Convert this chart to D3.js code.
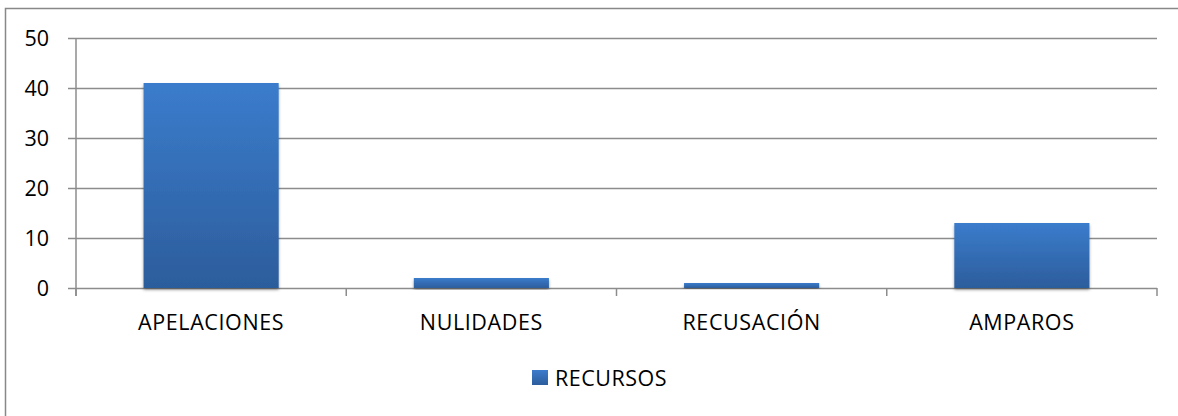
<!DOCTYPE html>
<html>
<head>
<meta charset="utf-8">
<script src="https://cdn.jsdelivr.net/npm/d3@7"></script>
<style>
  body { margin: 0; background: #fff; }
  text { font-family: "Open Sans", "Noto Sans", sans-serif; fill: #000; }
</style>
</head>
<body>
<div class="chart"></div>
<script>
// chart data
var categories = ["APELACIONES", "NULIDADES", "RECUSACIÓN", "AMPAROS"];
var recursos = [41, 2, 1, 13];
var yTicks = [0, 10, 20, 30, 40, 50];
var seriesName = "RECURSOS";

var W = 1178, H = 416;
var margin = {top: 38, right: 21, bottom: 128, left: 76},
    width = W - margin.left - margin.right,
    height = H - margin.top - margin.bottom;
var fontSize = "21.5px";

var svg = d3.select(".chart")
  .append("svg")
    .attr("width", W)
    .attr("height", H);

// gradient for bars
var defs = svg.append("defs");
var grad = defs.append("linearGradient")
    .attr("id", "barGrad")
    .attr("x1", 0).attr("y1", 0).attr("x2", 0).attr("y2", 1);
grad.append("stop").attr("offset", "0%").attr("stop-color", "#3b7ccc");
grad.append("stop").attr("offset", "100%").attr("stop-color", "#2c5d9c");

var shadow = defs.append("filter").attr("id", "shadow")
    .attr("x", "-10%").attr("y", "-10%").attr("width", "120%").attr("height", "130%");
shadow.append("feDropShadow")
    .attr("dx", 0).attr("dy", 2).attr("stdDeviation", 1.5)
    .attr("flood-color", "#000").attr("flood-opacity", 0.35);

// outer border (runs off the right and bottom)
svg.append("rect")
  .attr("x", 5.5).attr("y", 8.5)
  .attr("width", W + 20).attr("height", H + 20)
  .attr("fill", "none")
  .attr("stroke", "#888")
  .attr("stroke-width", 1.5);

var g = svg.append("g")
  .attr("transform", "translate(" + margin.left + "," + margin.top + ")");

var x = d3.scaleBand()
  .domain(categories)
  .range([0, width])
  .paddingInner(0.5)
  .paddingOuter(0.25);

var y = d3.scaleLinear()
  .domain([0, 50])
  .range([height, 0]);

// gridlines
g.append("g")
  .selectAll("line")
  .data(yTicks)
  .enter().append("line")
    .attr("x1", -8)
    .attr("x2", width)
    .attr("y1", function(d) { return Math.round(y(d)) + 0.5; })
    .attr("y2", function(d) { return Math.round(y(d)) + 0.5; })
    .attr("stroke", "#8c8c8c")
    .attr("stroke-width", 1.5);

// y axis line
g.append("line")
  .attr("x1", 0).attr("x2", 0)
  .attr("y1", 0).attr("y2", height + 8)
  .attr("stroke", "#8c8c8c")
  .attr("stroke-width", 1.5);

// x category tick marks
var step = x.step();
g.append("g")
  .selectAll("line")
  .data(d3.range(categories.length + 1))
  .enter().append("line")
    .attr("x1", function(i) { return i * step; })
    .attr("x2", function(i) { return i * step; })
    .attr("y1", height)
    .attr("y2", height + 8)
    .attr("stroke", "#8c8c8c")
    .attr("stroke-width", 1.5);

// y tick labels
g.append("g")
  .selectAll("text")
  .data(yTicks)
  .enter().append("text")
    .attr("x", -27)
    .attr("y", function(d) { return y(d); })
    .attr("dy", "0.36em")
    .attr("text-anchor", "end")
    .style("font-size", fontSize)
    .text(function(d) { return d; });

// bars
g.append("g")
  .selectAll("rect")
  .data(recursos)
  .enter().append("rect")
    .attr("x", function(d, i) { return x(categories[i]); })
    .attr("y", function(d) { return y(d); })
    .attr("width", x.bandwidth())
    .attr("height", function(d) { return height - y(d); })
    .attr("fill", "url(#barGrad)")
    .attr("filter", "url(#shadow)");

// category labels
g.append("g")
  .selectAll("text")
  .data(categories)
  .enter().append("text")
    .attr("x", function(d) { return x(d) + x.bandwidth() / 2; })
    .attr("y", height + 34)
    .attr("dy", "0.36em")
    .attr("text-anchor", "middle")
    .style("font-size", fontSize)
    .style("letter-spacing", "0.6px")
    .text(function(d) { return d; });

// legend
var legend = svg.append("g").attr("transform", "translate(532,370)");
legend.append("rect")
  .attr("width", 16).attr("height", 15)
  .attr("fill", "url(#barGrad)");
legend.append("text")
  .attr("x", 23)
  .attr("y", 8)
  .attr("dy", "0.36em")
  .style("font-size", fontSize)
  .style("letter-spacing", "0.5px")
  .text(seriesName);
</script>
</body>
</html>
